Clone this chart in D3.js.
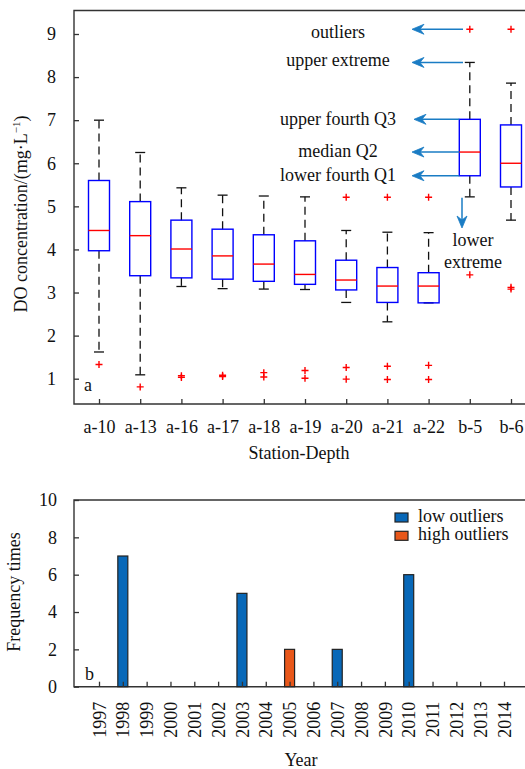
<!DOCTYPE html>
<html>
<head>
<meta charset="utf-8">
<script src="https://cdn.jsdelivr.net/npm/d3@7"></script>
<style>
  html, body { margin: 0; padding: 0; background: #fff; }
  svg { display: block; }
  text { font-family: "Liberation Serif", "Times New Roman", serif; fill: #111; }
</style>
</head>
<body>
<svg id="chart" width="525" height="769"></svg>
<script>
// ---------- Panel a: box plot data ----------
const stations = ["a-10","a-13","a-16","a-17","a-18","a-19","a-20","a-21","a-22","b-5","b-6"];
const whiskerHigh = [7.00, 6.25, 5.43, 5.26, 5.24, 5.22, 4.44, 4.40, 4.39, 8.34, 7.86];
const q3Values    = [5.60, 5.11, 4.68, 4.47, 4.34, 4.20, 3.75, 3.58, 3.46, 7.02, 6.89];
const medians     = [4.44, 4.32, 4.01, 3.85, 3.66, 3.42, 3.29, 3.15, 3.15, 6.26, 6.00];
const q1Values    = [3.97, 3.39, 3.34, 3.31, 3.26, 3.19, 3.06, 2.77, 2.76, 5.71, 5.45];
const whiskerLow  = [1.62, 1.09, 3.14, 3.09, 3.08, 3.07, 2.77, 2.32, 2.76, 5.22, 4.68];
const outlierSets = [
  [1.33],
  [0.81],
  [1.03, 1.07],
  [1.05, 1.08],
  [1.14, 1.04],
  [1.19, 1.01],
  [5.21, 1.26, 0.99],
  [5.21, 1.29, 0.98],
  [5.21, 1.31, 0.98],
  [9.11, 3.41],
  [9.11, 3.12, 3.08]
];
const yTicksA = [1, 2, 3, 4, 5, 6, 7, 8, 9];
const annotations = [
  { label: "outliers",        value: 9.11 },
  { label: "upper extreme",   value: 8.34 },
  { label: "upper fourth Q3", value: 7.02 },
  { label: "median Q2",       value: 6.26 },
  { label: "lower fourth Q1", value: 5.71 }
];

// ---------- Panel b: bar chart data ----------
const years = [1997,1998,1999,2000,2001,2002,2003,2004,2005,2006,2007,2008,2009,2010,2011,2012,2013,2014];
const lowOutliers  = [0,7,0,0,0,0,5,0,0,0,2,0,0,6,0,0,0,0];
const highOutliers = [0,0,0,0,0,0,0,0,2,0,0,0,0,0,0,0,0,0];
const yTicksB = [0, 2, 4, 6, 8, 10];
const seriesNames = ["low outliers", "high outliers"];

// ---------- styles ----------
const FS = 18;
const frameColor = "#333";
const boxBlue = "#0000ff";
const medRed = "#ff0000";
const arrowBlue = "#1a7cc4";
const barColors = ["#0868b8", "#e8571a"];

const svg = d3.select("#chart");

// ================= Panel a =================
const aLeft = 74, aTop = 10.5, aBottom = 404, aRight = 532;
const xA = d3.scaleLinear().domain([0, 10]).range([99, 511]);
const yA = d3.scaleLinear().domain([1, 9]).range([378.7, 34]);

const gA = svg.append("g");

// frame
gA.append("path")
  .attr("d", `M${aRight},${aTop}H${aLeft}V${aBottom}H${aRight}`)
  .attr("fill", "none").attr("stroke", frameColor).attr("stroke-width", 1.4);

// x axis
const xAxisA = d3.axisBottom(xA)
  .tickValues(d3.range(stations.length))
  .tickFormat(i => stations[i])
  .tickSizeInner(-5).tickSizeOuter(0).tickPadding(16);
const gxA = gA.append("g").attr("transform", `translate(0,${aBottom})`).call(xAxisA);
gxA.select(".domain").remove();
gxA.selectAll(".tick line").attr("stroke", frameColor).attr("stroke-width", 1.3);
gxA.selectAll(".tick text").attr("font-size", FS).attr("fill", "#111")
  .attr("font-family", '"Liberation Serif", "Times New Roman", serif');

// y axis
const yAxisA = d3.axisLeft(yA).tickValues(yTicksA).tickFormat(d3.format("d"))
  .tickSizeInner(-5).tickSizeOuter(0).tickPadding(18);
const gyA = gA.append("g").attr("transform", `translate(${aLeft},0)`).call(yAxisA);
gyA.select(".domain").remove();
gyA.selectAll(".tick line").attr("stroke", frameColor).attr("stroke-width", 1.3);
gyA.selectAll(".tick text").attr("font-size", FS).attr("fill", "#111")
  .attr("font-family", '"Liberation Serif", "Times New Roman", serif');

// axis titles
gA.append("text").attr("x", 299).attr("y", 459).attr("text-anchor", "middle")
  .attr("font-size", FS).text("Station-Depth");
const yt = gA.append("text").attr("transform", "translate(27,214) rotate(-90)")
  .attr("text-anchor", "middle").attr("font-size", FS);
yt.append("tspan").text("DO concentration/(mg·L");
yt.append("tspan").attr("font-size", 11).attr("dy", -7).text("−1");
yt.append("tspan").attr("dy", 7).text(")");

// panel letter
gA.append("text").attr("x", 84).attr("y", 391).attr("font-size", FS).text("a");

// boxes
const boxW = 21, capW = 10;
const boxes = gA.append("g").selectAll("g").data(stations).join("g");
// whiskers (dashed)
boxes.append("line")
  .attr("x1", (d, i) => xA(i)).attr("x2", (d, i) => xA(i))
  .attr("y1", (d, i) => yA(q3Values[i])).attr("y2", (d, i) => yA(whiskerHigh[i]))
  .attr("stroke", "#111").attr("stroke-width", 1.3).attr("stroke-dasharray", "8,5");
boxes.append("line")
  .attr("x1", (d, i) => xA(i)).attr("x2", (d, i) => xA(i))
  .attr("y1", (d, i) => yA(q1Values[i])).attr("y2", (d, i) => yA(whiskerLow[i]))
  .attr("stroke", "#111").attr("stroke-width", 1.3).attr("stroke-dasharray", "8,5");
// caps
boxes.append("line")
  .attr("x1", (d, i) => xA(i) - capW / 2).attr("x2", (d, i) => xA(i) + capW / 2)
  .attr("y1", (d, i) => yA(whiskerHigh[i])).attr("y2", (d, i) => yA(whiskerHigh[i]))
  .attr("stroke", "#111").attr("stroke-width", 1.3);
boxes.append("line")
  .attr("x1", (d, i) => xA(i) - capW / 2).attr("x2", (d, i) => xA(i) + capW / 2)
  .attr("y1", (d, i) => yA(whiskerLow[i])).attr("y2", (d, i) => yA(whiskerLow[i]))
  .attr("stroke", "#111").attr("stroke-width", 1.3);
// box
boxes.append("rect")
  .attr("x", (d, i) => xA(i) - boxW / 2).attr("width", boxW)
  .attr("y", (d, i) => yA(q3Values[i]))
  .attr("height", (d, i) => yA(q1Values[i]) - yA(q3Values[i]))
  .attr("fill", "none").attr("stroke", boxBlue).attr("stroke-width", 1.4);
// median
boxes.append("line")
  .attr("x1", (d, i) => xA(i) - boxW / 2).attr("x2", (d, i) => xA(i) + boxW / 2)
  .attr("y1", (d, i) => yA(medians[i])).attr("y2", (d, i) => yA(medians[i]))
  .attr("stroke", medRed).attr("stroke-width", 1.4);
// outliers
const outPts = [];
outlierSets.forEach((arr, i) => arr.forEach(v => outPts.push({ i, v })));
gA.append("g").selectAll("path").data(outPts).join("path")
  .attr("d", d => {
    const cx = xA(d.i), cy = yA(d.v), s = 3.5;
    return `M${cx - s},${cy}H${cx + s}M${cx},${cy - s}V${cy + s}`;
  })
  .attr("stroke", medRed).attr("stroke-width", 1.4).attr("fill", "none");

// annotations
function arrowHead(g, x, y, dir) {
  // dir: "left" or "down"
  let d;
  if (dir === "left") d = `M${x},${y}L${x + 12},${y - 5}L${x + 8},${y}L${x + 12},${y + 5}Z`;
  else d = `M${x},${y}L${x - 5},${y - 12}L${x},${y - 8}L${x + 5},${y - 12}Z`;
  g.append("path").attr("d", d).attr("fill", arrowBlue).attr("stroke", arrowBlue).attr("stroke-width", 0.8);
}
const annG = gA.append("g");
const textBaseOffset = [9, 4, 6, 5, 5];
annotations.forEach((a, k) => {
  const y = yA(a.value);
  const xStart = k < 2 ? 463 : xA(9) - boxW / 2;
  const xEnd = k === 2 ? 414 : 412;
  annG.append("line").attr("x1", xStart).attr("x2", xEnd + 8).attr("y1", y).attr("y2", y)
    .attr("stroke", arrowBlue).attr("stroke-width", 1.5);
  arrowHead(annG, xEnd, y, "left");
  annG.append("text").attr("x", 338).attr("y", y + textBaseOffset[k])
    .attr("text-anchor", "middle").attr("font-size", FS).text(a.label);
});
// lower extreme
const leX = 462, leY1 = yA(whiskerLow[9]) + 1, leY2 = 228;
annG.append("line").attr("x1", leX).attr("x2", leX).attr("y1", leY1).attr("y2", leY2 - 8)
  .attr("stroke", arrowBlue).attr("stroke-width", 1.5);
arrowHead(annG, leX, leY2, "down");
annG.append("text").attr("x", 473).attr("y", 246).attr("text-anchor", "middle").attr("font-size", FS).text("lower");
annG.append("text").attr("x", 473).attr("y", 268).attr("text-anchor", "middle").attr("font-size", FS).text("extreme");

// ================= Panel b =================
const bLeft = 74, bTop = 500, bBottom = 686.7, bRight = 532;
const xB = d3.scaleLinear().domain([1997, 2014]).range([99, 504]);
const yB = d3.scaleLinear().domain([0, 10]).range([bBottom, bTop]);
const gB = svg.append("g");

gB.append("path")
  .attr("d", `M${bRight},${bTop}H${bLeft}V${bBottom}H${bRight}`)
  .attr("fill", "none").attr("stroke", frameColor).attr("stroke-width", 1.4);

// bars
const barW = 10;
const barData = [];
years.forEach((yr, i) => {
  if (lowOutliers[i] > 0) barData.push({ yr, v: lowOutliers[i], s: 0 });
  if (highOutliers[i] > 0) barData.push({ yr, v: highOutliers[i], s: 1 });
});
gB.append("g").selectAll("rect").data(barData).join("rect")
  .attr("x", d => xB(d.yr) - barW / 2).attr("width", barW)
  .attr("y", d => yB(d.v)).attr("height", d => yB(0) - yB(d.v))
  .attr("fill", d => barColors[d.s]).attr("stroke", "#222").attr("stroke-width", 1.2);

// x axis (ticks inward)
const xAxisB = d3.axisBottom(xB).tickValues(years).tickFormat(d3.format("d"))
  .tickSizeInner(-5).tickSizeOuter(0);
const gxB = gB.append("g").attr("transform", `translate(0,${bBottom})`).call(xAxisB);
gxB.select(".domain").remove();
gxB.selectAll(".tick line").attr("stroke", frameColor).attr("stroke-width", 1.3);
gxB.selectAll(".tick text").remove();
gxB.selectAll(".tick").append("text")
  .attr("transform", "translate(0,15) rotate(-90)")
  .attr("text-anchor", "end").attr("dy", "0.34em")
  .attr("font-size", FS).attr("fill", "#111")
  .attr("font-family", '"Liberation Serif", "Times New Roman", serif')
  .text(d => d);

// y axis
const yAxisB = d3.axisLeft(yB).tickValues(yTicksB).tickFormat(d3.format("d"))
  .tickSizeInner(-5).tickSizeOuter(0).tickPadding(17);
const gyB = gB.append("g").attr("transform", `translate(${bLeft},0)`).call(yAxisB);
gyB.select(".domain").remove();
gyB.selectAll(".tick line").attr("stroke", frameColor).attr("stroke-width", 1.3);
gyB.selectAll(".tick text").attr("font-size", FS).attr("fill", "#111")
  .attr("font-family", '"Liberation Serif", "Times New Roman", serif');

gB.append("text").attr("x", 301).attr("y", 766).attr("text-anchor", "middle")
  .attr("font-size", FS).text("Year");
gB.append("text").attr("transform", "translate(20,592) rotate(-90)")
  .attr("text-anchor", "middle").attr("font-size", FS).text("Frequency times");
gB.append("text").attr("x", 85).attr("y", 680).attr("font-size", FS).text("b");

// legend
const leg = gB.append("g").selectAll("g").data(seriesNames).join("g")
  .attr("transform", (d, i) => `translate(395,${513 + i * 18.3})`);
leg.append("rect").attr("width", 13).attr("height", 9)
  .attr("fill", (d, i) => barColors[i]).attr("stroke", "#222").attr("stroke-width", 1.2);
leg.append("text").attr("x", 23).attr("y", 8.5).attr("font-size", FS).text(d => d);
</script>
</body>
</html>
